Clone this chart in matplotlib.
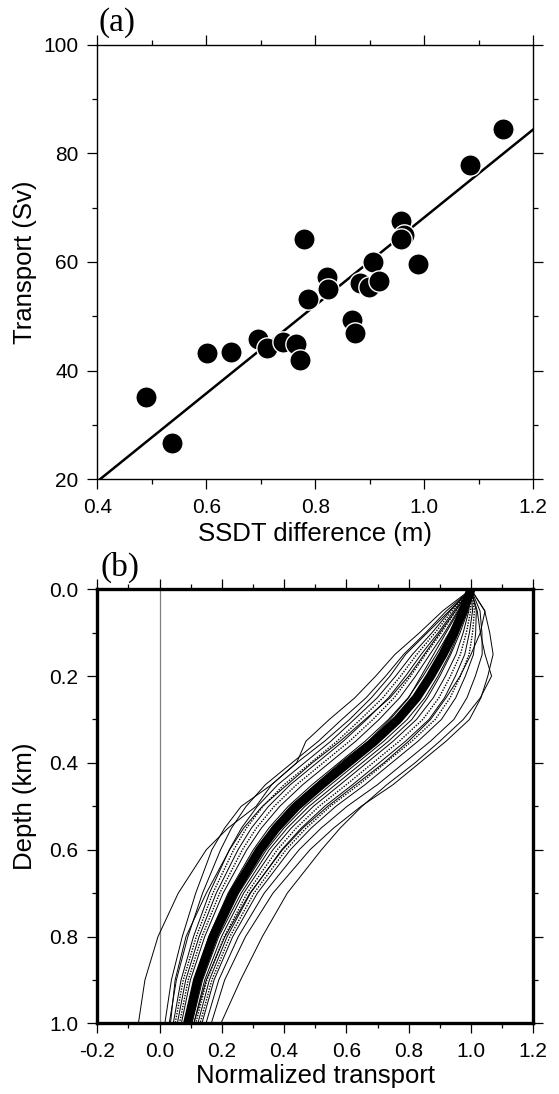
import numpy as np
import matplotlib
matplotlib.use("Agg")
import matplotlib.pyplot as plt
from matplotlib.ticker import MultipleLocator, FormatStrFormatter

plt.rcParams['font.family'] = ['Liberation Sans', 'DejaVu Sans']
plt.rcParams['axes.unicode_minus'] = False

# (a) transport vs SSDT difference
ssdt = [0.489, 0.538, 0.602, 0.645, 0.695, 0.712, 0.741, 0.765, 0.772, 0.779,
        0.787, 0.822, 0.824, 0.867, 0.873, 0.882, 0.899, 0.905, 0.917, 0.958,
        0.962, 0.958, 0.988, 1.083, 1.144]
transport = [35.1, 26.7, 43.3, 43.5, 45.8, 44.2, 45.2, 44.9, 41.9, 64.3,
             53.1, 57.2, 55.1, 49.4, 46.9, 56.1, 55.4, 60.0, 56.5, 67.6,
             65.0, 64.3, 59.6, 77.9, 84.4]
fit_slope, fit_intercept = 81.0, -12.8

# (b) normalized transport profiles (x values at each depth)
depth = [0.0, 0.05, 0.1, 0.15, 0.2, 0.25, 0.3, 0.35, 0.4, 0.45, 0.5, 0.55,
         0.6, 0.7, 0.8, 0.9, 1.0]
mean_profile = [1.0, .975, .945, .91, .87, .825, .765, .69, .605, .52, .44,
                .375, .322, .237, .172, .122, .09]
solid_profiles = [
    [1.0, .966, .93, .889, .846, .798, .735, .66, .575, .49, .413, .351, .301, .22, .158, .111, .08],
    [1.0, .984, .96, .931, .894, .852, .795, .72, .635, .55, .467, .399, .343, .254, .186, .133, .10],
    [1.0, .97, .937, .90, .858, .811, .75, .675, .59, .505, .427, .363, .312, .229, .165, .116, .085],
    [1.0, .98, .952, .92, .882, .838, .78, .705, .62, .535, .453, .387, .333, .245, .179, .128, .095],
    [1.0, .957, .915, .868, .822, .771, .705, .63, .545, .46, .386, .327, .28, .204, .145, .099, .07],
    [1.0, .993, .975, .952, .918, .879, .825, .75, .665, .58, .494, .423, .364, .27, .199, .145, .11],
    [1.0, .945, .895, .84, .79, .735, .665, .59, .505, .42, .35, .295, .252, .182, .127, .084, .057],
    [1.0, 1.005, .995, .98, .95, .915, .865, .79, .705, .62, .53, .455, .392, .292, .217, .16, .123],
    [1.0, .933, .875, .812, .758, .699, .625, .55, .465, .38, .314, .263, .224, .16, .109, .069, .044],
    [1.0, 1.017, 1.015, 1.008, .982, .951, .905, .83, .745, .66, .566, .487, .42, .314, .235, .175, .136],
    [1.0, .921, .855, .784, .726, .663, .585, .51, .425, .34, .278, .231, .196, .138, .091, .054, .031],
    [1.0, 1.029, 1.035, 1.036, 1.014, .987, .945, .87, .785, .70, .602, .519, .448, .336, .253, .19, .149],
    [1.0, .909, .835, .756, .694, .627, .545, .47, .44, .36, .262, .209, .168, .116, .073, .038, .017],
    [1.0, 1.044, 1.06, 1.071, 1.054, 1.032, .995, .92, .835, .75, .647, .559, .483, .364, .276, .209, .166],
    [1.0, .93, .86, .79, .74, .68, .61, .53, .44, .36, .31, .22, .15, .06, -.005, -.047, -.068],
    [1.0, 1.02, 1.03, 1.045, 1.066, 1.03, .975, .90, .82, .73, .65, .58, .52, .41, .33, .26, .197],
    [1.0, 1.045, 1.03, 1.0, .965, .92, .87, .80, .72, .63, .54, .46, .395, .29, .21, .15, .11],
    [1.0, .95, .90, .85, .80, .74, .66, .58, .49, .41, .33, .27, .225, .15, .085, .05, .035],
    [1.0, .96, .92, .88, .84, .80, .74, .67, .58, .50, .42, .36, .31, .225, .162, .115, .082],
    [1.0, .99, .965, .935, .90, .86, .81, .735, .65, .565, .48, .41, .352, .262, .19, .138, .104],
]
dotted_profiles = [
    [1.0, .951, .905, .854, .806, .753, .685, .61, .525, .44, .368, .311, .266, .193, .136, .092, .064],
    [1.0, .939, .885, .826, .774, .717, .645, .57, .485, .40, .332, .279, .238, .171, .118, .076, .05],
    [1.0, .999, .985, .966, .934, .897, .845, .77, .685, .60, .512, .439, .378, .281, .208, .152, .116],
    [1.0, 1.011, 1.005, .994, .966, .933, .885, .81, .725, .64, .548, .471, .406, .303, .226, .168, .13],
]

fig = plt.figure(figsize=(5.59, 10.94), dpi=100)
ax1 = fig.add_axes([0.174, 0.5619, 0.780, 0.3973])
ax2 = fig.add_axes([0.174, 0.0645, 0.780, 0.3969])


def style_axes(ax, frame_lw):
    for sp in ax.spines.values():
        sp.set_linewidth(frame_lw)
    ax.tick_params(which='both', direction='out', top=True, right=True,
                   labeltop=False, labelright=False, width=0.9, labelsize=15, pad=6)
    ax.tick_params(which='major', length=7.5)
    ax.tick_params(which='minor', length=3.3)


# panel (a)
xfit = np.array([0.4, 1.2])
ax1.plot(xfit, fit_slope * xfit + fit_intercept, color='black', lw=1.8, zorder=2)
ax1.scatter(ssdt, transport, s=235, color='black', edgecolors='white',
            linewidths=1.0, zorder=3)
ax1.set_xlim(0.4, 1.2)
ax1.set_ylim(20, 100)
ax1.xaxis.set_major_locator(MultipleLocator(0.2))
ax1.xaxis.set_minor_locator(MultipleLocator(0.1))
ax1.yaxis.set_major_locator(MultipleLocator(20))
ax1.yaxis.set_minor_locator(MultipleLocator(10))
ax1.xaxis.set_major_formatter(FormatStrFormatter('%.1f'))
style_axes(ax1, 1.0)
ax1.set_xlabel('SSDT difference (m)', fontsize=18.5)
ax1.set_ylabel('Transport (Sv)', fontsize=18.5)
ax1.xaxis.set_label_coords(0.5, -0.127)
ax1.xaxis.label.set_va('center')
ax1.yaxis.set_label_coords(-0.166, 0.5)
ax1.yaxis.label.set_va('center')

# panel (b)
ax2.axvline(0.0, color='#808080', lw=0.9, zorder=1)
for prof in solid_profiles:
    ax2.plot(prof, depth, color='black', lw=0.7, zorder=2)
for prof in dotted_profiles:
    ax2.plot(prof, depth, color='black', lw=1.0, ls=(0, (1, 1)), zorder=2)
ax2.plot(mean_profile, depth, color='black', lw=6.5, zorder=3, solid_capstyle='round')
ax2.set_xlim(-0.2, 1.2)
ax2.set_ylim(1.0, 0.0)
ax2.xaxis.set_major_locator(MultipleLocator(0.2))
ax2.xaxis.set_minor_locator(MultipleLocator(0.1))
ax2.yaxis.set_major_locator(MultipleLocator(0.2))
ax2.yaxis.set_minor_locator(MultipleLocator(0.1))
ax2.xaxis.set_major_formatter(FormatStrFormatter('%.1f'))
ax2.yaxis.set_major_formatter(FormatStrFormatter('%.1f'))
style_axes(ax2, 2.4)
ax2.set_xlabel('Normalized transport', fontsize=18.5)
ax2.set_ylabel('Depth (km)', fontsize=18.5)
ax2.xaxis.set_label_coords(0.5, -0.122)
ax2.xaxis.label.set_va('center')
ax2.yaxis.set_label_coords(-0.166, 0.5)
ax2.yaxis.label.set_va('center')

fig.text(98 / 559, 1 - 23 / 1094, '(a)', ha='left', va='center',
         fontsize=24, family=['Liberation Serif', 'DejaVu Serif'])
fig.text(100 / 559, 1 - 567 / 1094, '(b)', ha='left', va='center',
         fontsize=24, family=['Liberation Serif', 'DejaVu Serif'])

fig.savefig('out.png', dpi=100)
